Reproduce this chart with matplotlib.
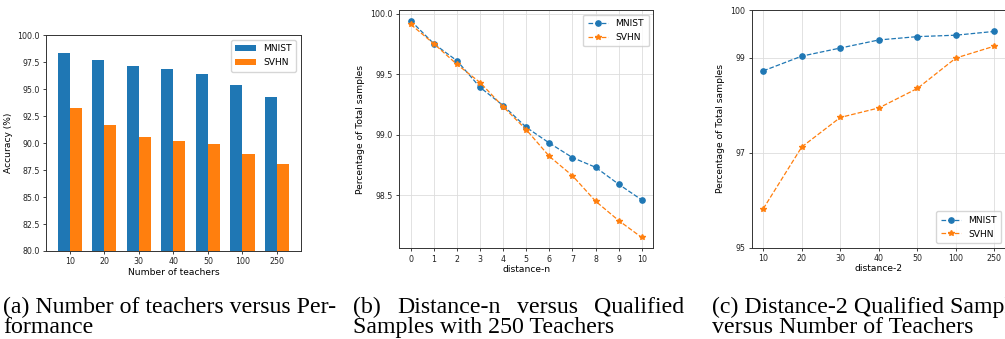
import matplotlib
matplotlib.use("Agg")
import matplotlib.pyplot as plt
import numpy as np

# ---------------- data ----------------
teachers = ["10", "20", "30", "40", "50", "100", "250"]
acc_mnist = [98.33, 97.68, 97.19, 96.85, 96.45, 95.36, 94.31]
acc_svhn = [93.26, 91.72, 90.60, 90.20, 89.90, 88.96, 88.04]

distance_n = [0, 1, 2, 3, 4, 5, 6, 7, 8, 9, 10]
dist_mnist = [99.94, 99.75, 99.61, 99.39, 99.24, 99.06, 98.93, 98.81, 98.73, 98.59, 98.46]
dist_svhn = [99.91, 99.75, 99.58, 99.43, 99.23, 99.04, 98.82, 98.66, 98.45, 98.29, 98.15]

d2_mnist = [98.72, 99.03, 99.20, 99.37, 99.44, 99.47, 99.55]
d2_svhn = [95.82, 97.12, 97.74, 97.94, 98.35, 98.99, 99.24]

caption_a = ["(a) Number of teachers versus Per-", "formance"]
caption_b = ["(b) Distance-n versus Qualified", "Samples with 250 Teachers"]
caption_c = ["(c) Distance-2 Qualified Samples", "versus Number of Teachers"]

W, H = 1005, 339
fig = plt.figure(figsize=(W / 100, H / 100), dpi=100)

def box(l, r, t, b):
    return [l / W, 1 - b / H, (r - l) / W, (b - t) / H]

spine_c = "#333333"
tick_fs = 5.7
lab_fs = 6.6
leg_fs = 6.6

def style(ax):
    for s in ax.spines.values():
        s.set_color(spine_c)
        s.set_linewidth(0.7)
    ax.tick_params(labelsize=tick_fs, width=0.6, length=2.5, pad=2, colors="#222222")

# ---------- (a) ----------
ax1 = fig.add_axes(box(46, 300.7, 35.3, 251))
x = np.arange(len(teachers))
w = 0.35
ax1.bar(x - w / 2, acc_mnist, w, color="#1f77b4", label="MNIST")
ax1.bar(x + w / 2, acc_svhn, w, color="#ff7f0e", label="SVHN")
ax1.set_ylim(80, 100)
yt = np.arange(80, 100.1, 2.5)
ax1.set_yticks(yt)
ax1.set_yticklabels([f"{v:.1f}" for v in yt])
ax1.set_xticks(x)
ax1.set_xticklabels(teachers)
ax1.set_xlabel("Number of teachers", fontsize=lab_fs, labelpad=1)
ax1.set_ylabel("Accuracy (%)", fontsize=lab_fs, labelpad=3)
style(ax1)
ax1.legend(loc="upper right", fontsize=leg_fs, handlelength=2.2, borderpad=0.5)

# ---------- (b) ----------
ax2 = fig.add_axes(box(399.3, 653.3, 10, 248.3))
ax2.plot(distance_n, dist_mnist, "--o", color="#1f77b4", lw=0.9, ms=3.8, label="MNIST")
ax2.plot(distance_n, dist_svhn, "--*", color="#ff7f0e", lw=0.9, ms=3.8, label="SVHN")
ax2.set_xticks(distance_n)
ax2.set_yticks([98.5, 99.0, 99.5, 100.0])
ax2.grid(True, color="#dddddd", lw=0.6)
ax2.set_xlabel("distance-n", fontsize=lab_fs, labelpad=1)
ax2.set_ylabel("Percentage of Total samples", fontsize=lab_fs, labelpad=4)
style(ax2)
ax2.legend(loc="upper right", fontsize=leg_fs, handlelength=2.2, borderpad=0.5)

# ---------- (c) ----------
ax3 = fig.add_axes(box(751.7, 1006, 10, 247.7))
xc = np.arange(len(teachers))
ax3.plot(xc, d2_mnist, "--o", color="#1f77b4", lw=0.9, ms=3.8, label="MNIST")
ax3.plot(xc, d2_svhn, "--*", color="#ff7f0e", lw=0.9, ms=3.8, label="SVHN")
ax3.set_ylim(95, 100)
ax3.set_yticks([95, 97, 99, 100])
ax3.set_xticks(xc)
ax3.set_xticklabels(teachers)
ax3.grid(True, color="#dddddd", lw=0.6)
ax3.set_xlabel("distance-2", fontsize=lab_fs, labelpad=1)
ax3.set_ylabel("Percentage of Total samples", fontsize=lab_fs, labelpad=4)
style(ax3)
ax3.legend(loc="lower right", fontsize=leg_fs, handlelength=2.2, borderpad=0.5)

# ---------- captions ----------
cap_fs = 17.2
serif = "Liberation Serif"
y1 = 1 - 313 / H
y2 = 1 - 333 / H

def cap(xpx, y, s):
    return fig.text(xpx / W, y, s, fontsize=cap_fs, family=serif, va="baseline", ha="left")

def cap_justified(x0, x1, y, s):
    words = s.split()
    renderer = fig.canvas.get_renderer()
    texts = [cap(x0, y, wd) for wd in words]
    widths = [t.get_window_extent(renderer).width for t in texts]
    gap = (x1 - x0 - sum(widths)) / (len(words) - 1)
    pos = x0
    for t, wd in zip(texts, widths):
        t.set_x(pos / W)
        pos += wd + gap

cap(3, y1, caption_a[0])
cap(3, y2, caption_a[1])
cap_justified(353, 684, y1, caption_b[0])
cap(353, y2, caption_b[1])
cap(712, y1, caption_c[0])
cap(712, y2, caption_c[1])

fig.savefig("out.png", dpi=100)
